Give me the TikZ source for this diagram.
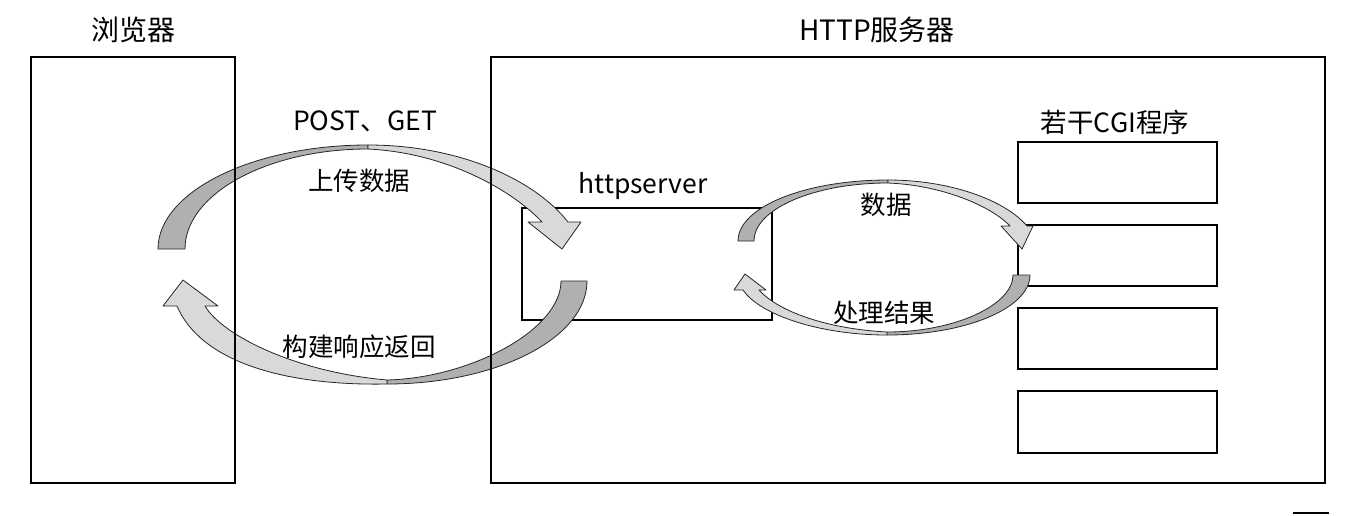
\documentclass[tikz,border=0pt]{standalone}
\usepackage{fontspec}
\setmainfont{Noto Sans CJK SC}
\begin{document}
\begin{tikzpicture}[x=1pt,y=-1pt,
  box/.style={draw=black, line width=1.6pt, inner sep=0pt, outer sep=0pt},
  lbl/.style={font=\fontsize{25.5}{30}\selectfont, inner sep=0pt},
  lblw/.style={font=\fontsize{26.5}{30}\selectfont, inner sep=0pt},
  title/.style={font=\fontsize{28}{32}\selectfont, inner sep=0pt},
  back/.style={fill=black!31, draw=black!85, line width=0.8pt, line join=round},
  front/.style={fill=black!15, draw=black!85, line width=0.8pt, line join=round}]
\useasboundingbox (0,0) rectangle (1365,515);

% inner boxes (behind the arrows)
\node[box, minimum width=250pt, minimum height=112pt] (httpd) at (647,264) {};
\node[box, minimum width=199pt, minimum height=61pt] (cgi1) at (1117.5,172.5) {};
\node[box, minimum width=199pt, minimum height=61pt] (cgi2) at (1117.5,255.5) {};
\node[box, minimum width=199pt, minimum height=61pt] (cgi3) at (1117.5,338.5) {};
\node[box, minimum width=199pt, minimum height=62pt] (cgi4) at (1117.5,422) {};

% big loop: upper arrow (browser -> httpserver)
\path[back] (158,249) .. controls (158,192) and (252,145) .. (368,145) -- (368,149)
  .. controls (267,149) and (185,194) .. (185,249) -- cycle;
\path[front] (368,145) .. controls (460,145) and (535,180) .. (568,222) -- (581,222)
  -- (562,249) -- (528,222) -- (542,222) .. controls (515,193) and (450,153) .. (368,149) -- cycle;

% big loop: lower arrow (httpserver -> browser)
\path[back] (561,281) -- (587,281) .. controls (587,338) and (497,384) .. (387,384) -- (387,380)
  .. controls (470,378) and (561,330) .. (561,281) -- cycle;
\path[front] (387,384) .. controls (280,386) and (200,360) .. (177,306) -- (163,306)
  -- (183,280) -- (218,306) -- (205,306) .. controls (222,335) and (295,372) .. (387,380) -- cycle;

% small loop: upper arrow (httpserver -> CGI)
\path[back] (738,241) .. controls (738,207) and (805,180) .. (888,180) -- (888,183)
  .. controls (814,183) and (754,209) .. (754,241) -- cycle;
\path[front] (888,180) .. controls (950,180) and (1005,200) .. (1027,226) -- (1033,226)
  -- (1022,249) -- (1001,226) -- (1010,226) .. controls (990,205) and (940,185) .. (888,183) -- cycle;

% small loop: lower arrow (CGI -> httpserver)
\path[back] (1013,275) -- (1030,275) .. controls (1030,308) and (966,335) .. (887,335) -- (887,332)
  .. controls (955,332) and (1013,305) .. (1013,275) -- cycle;
\path[front] (887,335) .. controls (820,335) and (760,315) .. (743,290) -- (734,290)
  -- (745,274) -- (766,290) -- (759,290) .. controls (780,313) and (830,329) .. (887,332) -- cycle;

% outer boxes (in front)
\node[box, minimum width=204pt, minimum height=426pt] (browser) at (133,270) {};
\node[box, minimum width=834pt, minimum height=426pt] (server) at (908,270) {};

% labels
\node[title] (tbrowser) at (133,30) {浏览器};
\node[title] (tserver) at (877,30) {HTTP服务器};
\node[lblw] (tpost) at (365,121) {POST、GET};
\node[lbl] (tup) at (359,181) {上传数据};
\node[lbl] (tresp) at (359,347) {构建响应返回};
\node[lblw] (thttpd) at (643,186) {httpserver};
\node[lbl] (tdata) at (886,205) {数据};
\node[lbl] (tres) at (884,313) {处理结果};
\node[lblw] (tcgi) at (1115,122) {若干CGI程序};

% stray mark at bottom right
\draw[line width=1.6pt] (1293,513) -- (1329,513);
\end{tikzpicture}
\end{document}
